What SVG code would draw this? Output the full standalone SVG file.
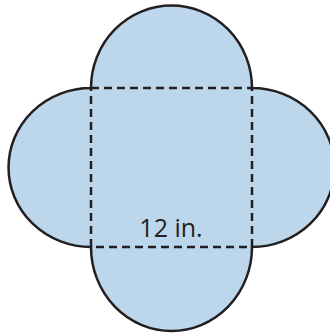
<svg xmlns="http://www.w3.org/2000/svg" width="330" height="333" viewBox="0 0 330 333">
<style>
.shape{fill:#bcd7eb;stroke:#231f20;stroke-width:2.5}
.dash{fill:none;stroke:#231f20;stroke-width:2.5;stroke-dasharray:8 5}
.lbl{font-family:"Open Sans",sans-serif;font-size:25px;fill:#231f20}
</style>
<g id="shape">
<path class="shape" d="M91,88 A80.5,82.5 0 0 1 252,88 A82.5,79.5 0 0 1 252,247 A80.5,84 0 0 1 91,247 A82.5,79.5 0 0 1 91,88 Z"/>
</g>
<g id="square">
<rect class="dash" x="91" y="88" width="161" height="159"/>
</g>
<g id="label">
<text class="lbl" x="171" y="237" text-anchor="middle">12 in.</text>
</g>
</svg>
